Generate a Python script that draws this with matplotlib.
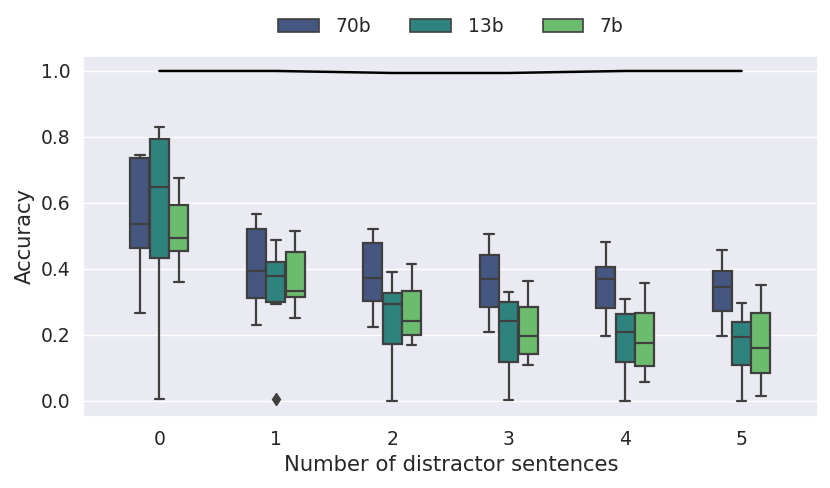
import numpy as np
import matplotlib
matplotlib.use("Agg")
from matplotlib import pyplot as plt
from matplotlib.patches import Patch
import seaborn as sns


# %% --------------- DATA ------------------------------------------------------------------------ #
n_distractors = [0, 1, 2, 3, 4, 5]
models = ["70b", "13b", "7b"]

# per model: one value per number of distractor sentences
med = {
    "70b": [0.535, 0.395, 0.373, 0.371, 0.368, 0.345],
    "13b": [0.648, 0.380, 0.295, 0.243, 0.210, 0.193],
    "7b":  [0.493, 0.333, 0.242, 0.198, 0.175, 0.161],
}
q1 = {
    "70b": [0.462, 0.312, 0.304, 0.285, 0.281, 0.271],
    "13b": [0.433, 0.299, 0.171, 0.118, 0.117, 0.109],
    "7b":  [0.453, 0.314, 0.200, 0.141, 0.105, 0.084],
}
q3 = {
    "70b": [0.735, 0.520, 0.480, 0.441, 0.405, 0.395],
    "13b": [0.793, 0.421, 0.327, 0.301, 0.263, 0.240],
    "7b":  [0.593, 0.452, 0.334, 0.284, 0.267, 0.265],
}
whis_lo = {
    "70b": [0.266, 0.231, 0.224, 0.209, 0.196, 0.196],
    "13b": [0.007, 0.294, 0.001, 0.002, 0.001, 0.001],
    "7b":  [0.361, 0.252, 0.169, 0.109, 0.058, 0.014],
}
whis_hi = {
    "70b": [0.746, 0.565, 0.520, 0.506, 0.481, 0.457],
    "13b": [0.829, 0.489, 0.392, 0.330, 0.309, 0.296],
    "7b":  [0.677, 0.514, 0.414, 0.364, 0.357, 0.351],
}
outliers = {
    "70b": [[], [], [], [], [], []],
    "13b": [[], [0.007], [], [], [], []],
    "7b":  [[], [], [], [], [], []],
}

# black reference line
ref_line = [1.0, 1.0, 0.994, 0.994, 1.0, 1.0]


# %% --------------- STYLE ----------------------------------------------------------------------- #
sns.set_theme(style="darkgrid")
plt.rcParams["font.family"] = ["DejaVu Sans"]

palette = [sns.desaturate(c, 0.75) for c in sns.color_palette("viridis", 3)]
edge = "#3f3f3f"

fig, ax = plt.subplots(figsize=(8.3, 4.88), dpi=100)
fig.subplots_adjust(left=0.1004, right=0.986, top=0.885, bottom=0.146)


# %% --------------- BOXES ----------------------------------------------------------------------- #
offsets = [-0.167, 0.0, 0.167]
box_w = 0.163

for m_i, model in enumerate(models):
    stats = []
    for i in range(len(n_distractors)):
        stats.append(dict(med=med[model][i], q1=q1[model][i], q3=q3[model][i],
                          whislo=whis_lo[model][i], whishi=whis_hi[model][i],
                          fliers=outliers[model][i]))
    pos = np.array(n_distractors) + offsets[m_i]
    ax.bxp(stats, positions=pos, widths=box_w, patch_artist=True, manage_ticks=False,
           boxprops=dict(facecolor=palette[m_i], edgecolor=edge, linewidth=1.6),
           medianprops=dict(color=edge, linewidth=1.6),
           whiskerprops=dict(color=edge, linewidth=1.6),
           capprops=dict(color=edge, linewidth=1.6),
           flierprops=dict(marker="d", markerfacecolor=edge, markeredgecolor=edge,
                           markersize=6, linestyle="none"))

ax.plot(n_distractors, ref_line, color="black", linewidth=1.8)


# %% --------------- AXES ------------------------------------------------------------------------ #
ax.set_xlim(-0.653, 5.66)
ax.set_ylim(-0.048, 1.045)
ax.set_xticks(n_distractors)
ax.set_xticklabels([str(n) for n in n_distractors])
ax.set_yticks([0.0, 0.2, 0.4, 0.6, 0.8, 1.0])
ax.xaxis.grid(False)
ax.tick_params(labelsize=13.5)
ax.set_xlabel("Number of distractor sentences", fontsize=15.2)
ax.set_ylabel("Accuracy", fontsize=15.2)

handles = [Patch(facecolor=palette[i], edgecolor=edge, linewidth=1.2, label=m)
           for i, m in enumerate(models)]
ax.legend(handles=handles, loc="center", bbox_to_anchor=(0.5, 1.082), ncol=3,
          frameon=False, fontsize=13.5, handlelength=2.15, handleheight=0.75,
          handletextpad=0.9, columnspacing=2.1)

fig.savefig("out.png", dpi=100)
